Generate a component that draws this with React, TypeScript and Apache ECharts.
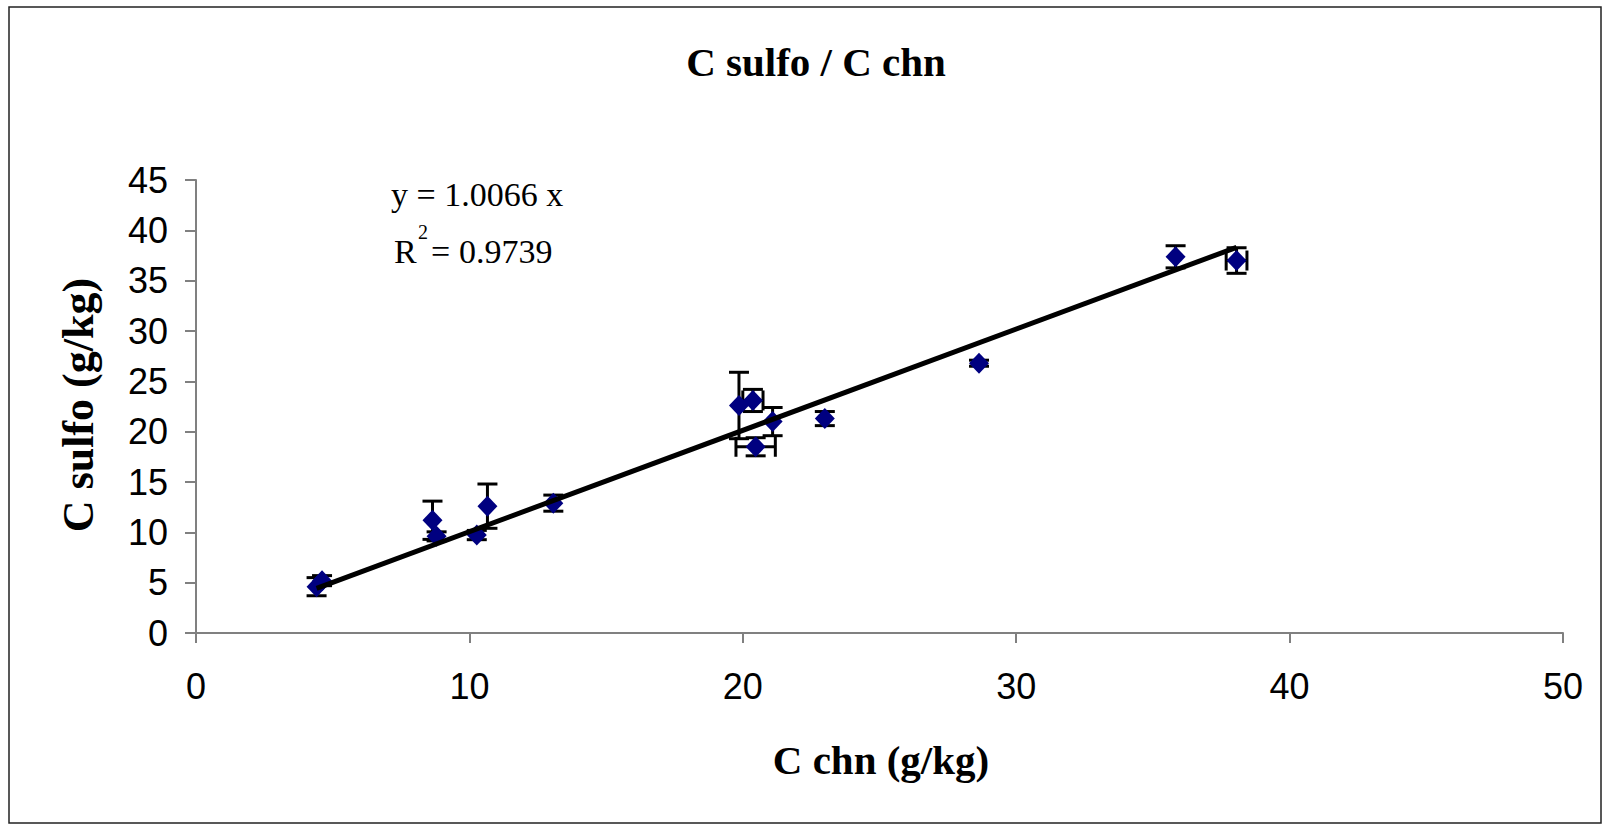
import React, { useEffect, useRef } from "react";
import * as echarts from "echarts";

const cChn = [4.41, 4.61, 8.65, 8.8, 10.27, 10.66, 13.07, 19.86, 20.37, 20.47, 21.09, 23.0, 28.64, 35.83, 38.06];
const cSulfo = [4.6, 5.2, 11.2, 9.6, 9.73, 12.6, 12.9, 22.6, 23.1, 18.5, 21.0, 21.3, 26.8, 37.37, 37.0];
const errX = [0, 0, 0, 0, 0, 0, 0, 0, 0.37, 0.72, 0, 0, 0, 0, 0.38];
const errY = [0.9, 0.5, 1.9, 0.45, 0.46, 2.2, 0.8, 3.3, 1.1, 0.9, 1.4, 0.7, 0.3, 1.1, 1.27];
const trendSlope = 1.0066;
const rSquared = 0.9739;
const titleText = "C sulfo / C chn";
const xName = "C chn (g/kg)";
const yName = "C sulfo (g/kg)";

export default function App() {
  const ref = useRef<HTMLDivElement>(null);
  useEffect(() => {
    if (!ref.current) return;
    const chart = echarts.init(ref.current, undefined, { renderer: "svg" });
    const xMin = Math.min(...cChn);
    const xMax = Math.max(...cChn);
    const serif = "'Liberation Serif', 'Times New Roman', serif";
    const sans = "'Liberation Sans', Arial, sans-serif";
    const errData = cChn.map((x, i) => [x, cSulfo[i], errX[i], errY[i]]);
    chart.setOption({
      animation: false,
      backgroundColor: "#fff",
      grid: { left: 196, right: 40, top: 180, bottom: 193 },
      xAxis: {
        type: "value",
        min: 0,
        max: 50,
        interval: 10,
        splitLine: { show: false },
        axisLine: { onZero: false, lineStyle: { color: "#808080", width: 2 } },
        axisTick: { show: true, inside: false, length: 10, lineStyle: { color: "#808080", width: 2 } },
        axisLabel: { fontSize: 36, fontFamily: sans, color: "#000", margin: 35 },
      },
      yAxis: {
        type: "value",
        min: 0,
        max: 45,
        interval: 5,
        splitLine: { show: false },
        axisLine: { show: true, onZero: false, lineStyle: { color: "#808080", width: 2 } },
        axisTick: { show: true, inside: false, length: 11, lineStyle: { color: "#808080", width: 2 } },
        axisLabel: { fontSize: 36, fontFamily: sans, color: "#000", margin: 28 },
      },
      graphic: [
        {
          type: "rect",
          shape: { x: 9, y: 7, width: 1592, height: 816 },
          style: { fill: "none", stroke: "#222", lineWidth: 1.5 },
          silent: true,
          z: -1,
        },
        {
          type: "text",
          x: 816,
          y: 62,
          style: { text: titleText, font: `bold 41px ${serif}`, fill: "#000", align: "center", verticalAlign: "middle" },
        },
        {
          type: "text",
          x: 881,
          y: 760,
          style: { text: xName, font: `bold 41px ${serif}`, fill: "#000", align: "center", verticalAlign: "middle" },
        },
        {
          type: "text",
          x: 78,
          y: 405,
          rotation: Math.PI / 2,
          style: { text: yName, font: `bold 44px ${serif}`, fill: "#000", align: "center", verticalAlign: "middle" },
        },
        {
          type: "text",
          x: 391,
          y: 194,
          style: { text: `y = ${trendSlope.toFixed(4)} x`, font: `34px ${serif}`, fill: "#000", align: "left", verticalAlign: "middle" },
        },
        {
          type: "text",
          x: 394,
          y: 251,
          style: { text: "R", font: `34px ${serif}`, fill: "#000", align: "left", verticalAlign: "middle" },
        },
        {
          type: "text",
          x: 418,
          y: 232,
          style: { text: "2", font: `20px ${serif}`, fill: "#000", align: "left", verticalAlign: "middle" },
        },
        {
          type: "text",
          x: 431,
          y: 251,
          style: { text: "=", font: `34px ${serif}`, fill: "#000", align: "left", verticalAlign: "middle" },
        },
        {
          type: "text",
          x: 459,
          y: 251,
          style: { text: rSquared.toFixed(4), font: `34px ${serif}`, fill: "#000", align: "left", verticalAlign: "middle" },
        },
      ],
      series: [
        {
          type: "custom",
          z: 1,
          data: errData,
          renderItem: (params: any, api: any) => {
            const x = api.value(0);
            const y = api.value(1);
            const ex = api.value(2);
            const ey = api.value(3);
            const cap = 10;
            const style = { stroke: "#000", lineWidth: 3, fill: "none" };
            const children: any[] = [];
            const top = api.coord([x, y + ey]);
            const bot = api.coord([x, y - ey]);
            children.push({ type: "line", shape: { x1: top[0], y1: top[1], x2: bot[0], y2: bot[1] }, style });
            children.push({ type: "line", shape: { x1: top[0] - cap, y1: top[1], x2: top[0] + cap, y2: top[1] }, style });
            children.push({ type: "line", shape: { x1: bot[0] - cap, y1: bot[1], x2: bot[0] + cap, y2: bot[1] }, style });
            if (ex > 0) {
              const l = api.coord([x - ex, y]);
              const r = api.coord([x + ex, y]);
              children.push({ type: "line", shape: { x1: l[0], y1: l[1], x2: r[0], y2: r[1] }, style });
              children.push({ type: "line", shape: { x1: l[0], y1: l[1] - cap, x2: l[0], y2: l[1] + cap }, style });
              children.push({ type: "line", shape: { x1: r[0], y1: r[1] - cap, x2: r[0], y2: r[1] + cap }, style });
            }
            return { type: "group", children };
          },
        },
        {
          type: "scatter",
          z: 2,
          symbol: "diamond",
          symbolSize: [20, 21],
          itemStyle: { color: "#000080", opacity: 1 },
          data: cChn.map((x, i) => [x, cSulfo[i]]),
        },
        {
          type: "line",
          z: 3,
          symbol: "none",
          lineStyle: { color: "#000", width: 5 },
          data: [
            [xMin, trendSlope * xMin],
            [xMax, trendSlope * xMax],
          ],
        },
      ],
    });
    return () => chart.dispose();
  }, []);
  return <div ref={ref} style={{ position: "fixed", left: 0, top: 0, width: 1603, height: 826 }} />;
}
